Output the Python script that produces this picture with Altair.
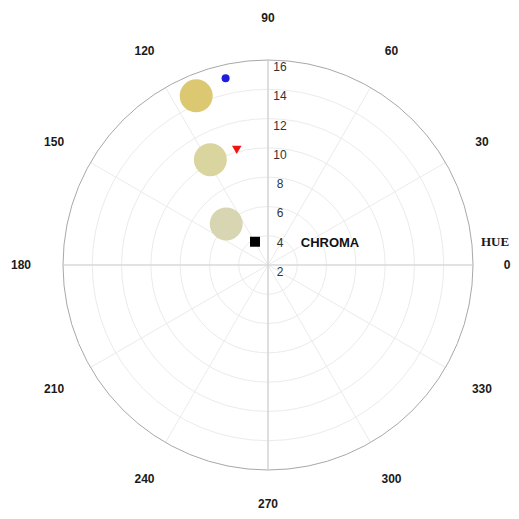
import altair as alt
import pandas as pd

# ---------------- data ----------------
ring_chroma = [4, 6, 8, 10, 12, 14]
outer_chroma = [16]
radial_labels = [2, 4, 6, 8, 10, 12, 14, 16]
hue_ticks = [0, 30, 60, 90, 120, 150, 180, 210, 240, 270, 300, 330]
main_axes = [0, 90, 180, 270]

big_hue = [113.0, 118.7, 135.5]
big_chroma = [14.55, 10.2, 6.0]
big_color = ["#DDC872", "#DAD59E", "#D8D5B2"]

mark_hue = [102.8, 105.2, 119.2]
mark_chroma = [15.07, 10.14, 3.82]
mark_color = ["#1E1EDC", "#F01414", "#000000"]
mark_shape = ["circle", "triangle-down", "square"]
mark_size = [64, 90, 100]

# ---------------- geometry ----------------
W, H = 503, 503
CX, CY = 260, 257          # centre of the polar plot inside the chart
R_OUT = 205                # pixel radius of chroma 16
C_MIN, C_MAX = 2, 16
K = R_OUT / (C_MAX - C_MIN)
R_LAB = 247
R_LAB_EDGE = 239           # labels at the chart edge pulled in slightly

xs = alt.Scale(domain=[-CX, W - CX], nice=False, zero=False)
ys = alt.Scale(domain=[-(H - CY), CY], nice=False, zero=False)

def rpx(field):
    return f"(datum.{field}-{C_MIN})*{K}"

def X(f):
    return alt.X(f"{f}:Q", scale=xs, axis=None)

def Y(f):
    return alt.Y(f"{f}:Q", scale=ys, axis=None)

# rings (symbol size = diameter^2)
rings = alt.Chart(pd.DataFrame({"c": ring_chroma})).transform_calculate(
    s=f"pow(2*{rpx('c')},2)", x0="0", y0="0"
).mark_point(shape="circle", filled=False, stroke="#ebebeb", strokeWidth=1, opacity=1).encode(
    x=X("x0"), y=Y("y0"), size=alt.Size("s:Q", scale=None, legend=None)
)

outer = alt.Chart(pd.DataFrame({"c": outer_chroma})).transform_calculate(
    s=f"pow(2*{rpx('c')},2)", x0="0", y0="0"
).mark_point(shape="circle", filled=False, stroke="#a8a8a8", strokeWidth=1, opacity=1).encode(
    x=X("x0"), y=Y("y0"), size=alt.Size("s:Q", scale=None, legend=None)
)

# spokes
spokes = alt.Chart(pd.DataFrame({"h": hue_ticks})).transform_calculate(
    x0="0", y0="0",
    xe=f"{R_OUT}*cos(datum.h*PI/180)", ye=f"{R_OUT}*sin(datum.h*PI/180)"
).mark_rule(stroke="#ebebeb", strokeWidth=1).encode(
    x=X("x0"), y=Y("y0"), x2="xe:Q", y2="ye:Q"
)

cross = alt.Chart(pd.DataFrame({"h": main_axes})).transform_calculate(
    x0="0", y0="0",
    xe=f"{R_OUT}*cos(datum.h*PI/180)", ye=f"{R_OUT}*sin(datum.h*PI/180)"
).mark_rule(stroke="#cfcfcf", strokeWidth=1.2).encode(
    x=X("x0"), y=Y("y0"), x2="xe:Q", y2="ye:Q"
)

# radial labels
rlab = alt.Chart(pd.DataFrame({"c": radial_labels})).transform_calculate(
    x0="0", yr=rpx("c")
).mark_text(font="Liberation Sans", fontSize=12, color="#333333", dx=12, dy=7,
            align="center", baseline="middle").encode(
    x=X("x0"), y=Y("yr"), text="c:Q"
)

# hue labels
hlab = alt.Chart(pd.DataFrame({"h": hue_ticks})).transform_calculate(
    rl=f"(datum.h == 0 || datum.h == 270) ? {R_LAB_EDGE} : {R_LAB}"
).transform_calculate(
    xl="datum.rl*cos(datum.h*PI/180)", yl="datum.rl*sin(datum.h*PI/180)"
).mark_text(font="Liberation Sans", fontSize=12, fontWeight="bold", color="#1a1a1a",
            align="center", baseline="middle").encode(
    x=X("xl"), y=Y("yl"), text="h:Q"
)

# big coloured discs
big = alt.Chart(pd.DataFrame({"hue": big_hue, "chroma": big_chroma, "col": big_color})).transform_calculate(
    px=f"{rpx('chroma')}*cos(datum.hue*PI/180)", py=f"{rpx('chroma')}*sin(datum.hue*PI/180)"
).mark_point(shape="circle", filled=True, size=1089, opacity=1).encode(
    x=X("px"), y=Y("py"), color=alt.Color("col:N", scale=None, legend=None)
)

marks = alt.Chart(pd.DataFrame({"hue": mark_hue, "chroma": mark_chroma, "col": mark_color,
                                "shp": mark_shape, "sz": mark_size})).transform_calculate(
    px=f"{rpx('chroma')}*cos(datum.hue*PI/180)", py=f"{rpx('chroma')}*sin(datum.hue*PI/180)"
).mark_point(filled=True, opacity=1).encode(
    x=X("px"), y=Y("py"),
    color=alt.Color("col:N", scale=None, legend=None),
    shape=alt.Shape("shp:N", scale=None, legend=None),
    size=alt.Size("sz:Q", scale=None, legend=None),
)

hue_title = alt.Chart(pd.DataFrame({"t": ["HUE"]})).mark_text(
    font="Liberation Serif", fontSize=13, fontWeight="bold", color="#1a1a1a",
    align="center", baseline="middle"
).encode(x=alt.datum(227, scale=xs, axis=None), y=alt.datum(23, scale=ys, axis=None), text="t:N")

chroma_title = alt.Chart(pd.DataFrame({"t": ["CHROMA"]})).mark_text(
    font="Liberation Sans", fontSize=13, fontWeight="bold", color="#111111",
    align="center", baseline="middle"
).encode(x=alt.datum(62, scale=xs, axis=None), y=alt.datum(22, scale=ys, axis=None), text="t:N")

chart = alt.layer(
    rings, spokes, outer, cross, big, marks, rlab, hlab, hue_title, chroma_title
).properties(
    width=W, height=H, background="white", padding=0,
    autosize=alt.AutoSizeParams(type="none")
).configure_view(stroke=None)

chart.save("out.html", embed_options={"renderer": "svg", "actions": False})
